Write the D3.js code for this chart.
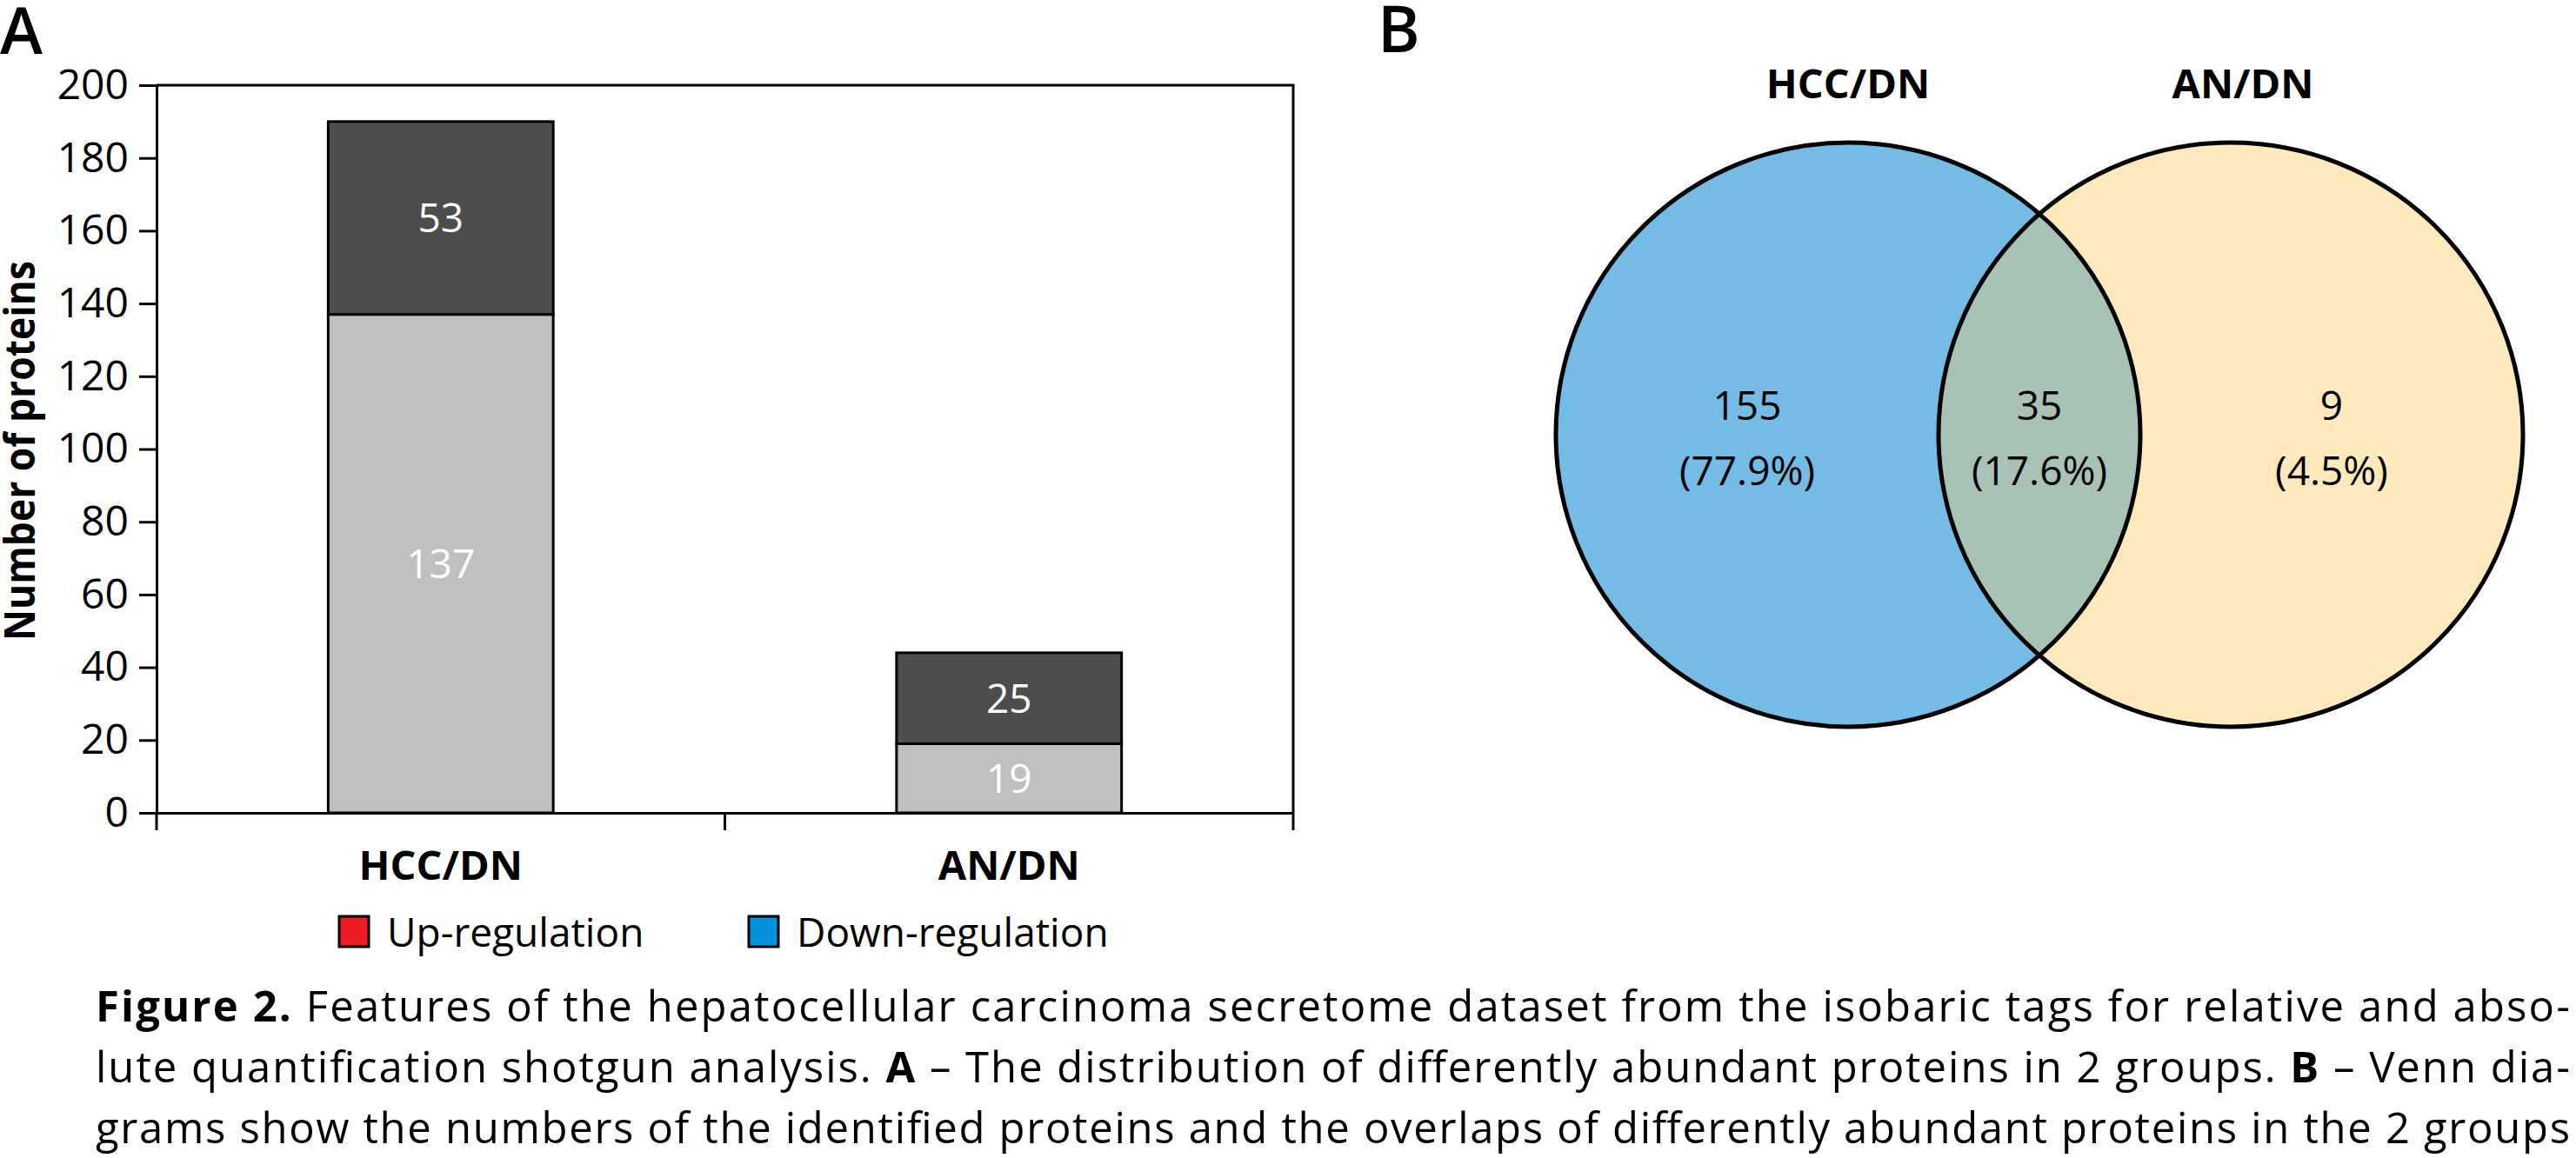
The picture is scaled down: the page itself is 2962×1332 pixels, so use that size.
<!DOCTYPE html>
<html>
<head>
<meta charset="utf-8">
<script src="https://cdn.jsdelivr.net/npm/d3@7"></script>
<style>
  body { margin: 0; background: #fff; }
  svg { display: block; }
  text { font-family: "Open Sans", "Noto Sans", sans-serif; white-space: pre; }
</style>
</head>
<body>
<svg id="chart" width="2962" height="1332"></svg>
<script>
// panel A data
const categories = ["HCC/DN", "AN/DN"];
const lowerValues = [137, 19];   // light segment
const upperValues = [53, 25];    // dark segment
const yTicks = [0, 20, 40, 60, 80, 100, 120, 140, 160, 180, 200];
const legendLabels = ["Up-regulation", "Down-regulation"];
const legendColors = ["#ed1c24", "#0093dd"];

// panel B data
const vennSets = ["HCC/DN", "AN/DN"];
const vennCounts = [155, 35, 9];  // HCC/DN only, both, AN/DN only

const captionLines = [
  [["Figure 2.", true], [" Features of the hepatocellular carcinoma secretome dataset from the isobaric tags for relative and abso-", false]],
  [["lute quantification shotgun analysis. ", false], ["A", true], [" \u2013 The distribution of differently abundant proteins in 2 groups. ", false], ["B", true], [" \u2013 Venn dia-", false]],
  [["grams show the numbers of the identified proteins and the overlaps of differently abundant proteins in the 2 groups", false]]
];

const svg = d3.select("#chart");

// ---------- panel A : stacked bars ----------
const pLeft = 180, pRight = 1487, pTop = 98, pBottom = 935;

const x = d3.scaleBand()
  .domain(categories)
  .range([pLeft, pRight]);
const y = d3.scaleLinear()
  .domain([0, 200])
  .range([pBottom, pTop]);
const barW = x.bandwidth() * 0.396;

svg.append("text")
  .attr("x", 0).attr("y", 62)
  .style("font-size", "74px").style("font-weight", 600)
  .text("A");

const bars = svg.append("g");
categories.forEach((c, i) => {
  const x0 = x(c) + (x.bandwidth() - barW) / 2;
  const segs = [
    { lo: 0, hi: lowerValues[i], fill: "#bfbfbf", label: lowerValues[i] },
    { lo: lowerValues[i], hi: lowerValues[i] + upperValues[i], fill: "#4d4d4d", label: upperValues[i] }
  ];
  segs.forEach(s => {
    bars.append("rect")
      .attr("x", x0)
      .attr("y", y(s.hi))
      .attr("width", barW)
      .attr("height", y(s.lo) - y(s.hi))
      .attr("fill", s.fill)
      .attr("stroke", "#000")
      .attr("stroke-width", 3);
    bars.append("text")
      .attr("x", x0 + barW / 2)
      .attr("y", (y(s.lo) + y(s.hi)) / 2)
      .attr("dy", "0.36em")
      .attr("text-anchor", "middle")
      .attr("fill", "#fff")
      .style("font-size", "46px")
      .text(s.label);
  });
});

// frame top and right
svg.append("path")
  .attr("d", `M${pLeft},${pTop}H${pRight}V${pBottom}`)
  .attr("fill", "none")
  .attr("stroke", "#000")
  .attr("stroke-width", 3);

const yAxis = d3.axisLeft(y)
  .tickValues(yTicks)
  .tickSize(20)
  .tickSizeOuter(0)
  .tickPadding(12);
const gy = svg.append("g")
  .attr("transform", `translate(${pLeft},0)`)
  .call(yAxis);
gy.selectAll("path, line").attr("stroke", "#000").attr("stroke-width", 3);
gy.selectAll("text")
  .attr("fill", "#000")
  .style("font-size", "48px")
  .style("font-family", '"Open Sans", sans-serif');

const xAxis = d3.axisBottom(x)
  .tickSize(0)
  .tickPadding(44);
const gx = svg.append("g")
  .attr("transform", `translate(0,${pBottom})`)
  .call(xAxis);
gx.select(".domain").attr("stroke", "#000").attr("stroke-width", 3);
gx.selectAll("text")
  .attr("fill", "#000")
  .style("font-size", "47px")
  .style("font-weight", "bold")
  .style("font-family", '"Open Sans", sans-serif');

// category boundary ticks
const bounds = categories.map(c => x(c)).concat([x(categories[categories.length - 1]) + x.bandwidth()]);
svg.append("g").selectAll("line")
  .data(bounds)
  .join("line")
  .attr("x1", d => d).attr("x2", d => d)
  .attr("y1", pBottom).attr("y2", pBottom + 20)
  .attr("stroke", "#000")
  .attr("stroke-width", 3);

svg.append("text")
  .attr("transform", `translate(40,${(pTop + pBottom) / 2 + 2}) rotate(-90)`)
  .attr("text-anchor", "middle")
  .attr("textLength", 437)
  .attr("lengthAdjust", "spacingAndGlyphs")
  .style("font-size", "48px")
  .style("font-weight", "bold")
  .text("Number of proteins");

// legend
const legend = svg.append("g");
legendLabels.forEach((l, i) => {
  const lx = 390 + i * 471;
  legend.append("rect")
    .attr("x", lx).attr("y", 1054)
    .attr("width", 34).attr("height", 35)
    .attr("fill", legendColors[i])
    .attr("stroke", "#000")
    .attr("stroke-width", 3);
  legend.append("text")
    .attr("x", lx + 55).attr("y", 1089)
    .style("font-size", "46px")
    .text(l);
});

// ---------- panel B : Venn ----------
const r = 336, cy = 500;
const vx = d3.scalePoint()
  .domain(vennSets)
  .range([2125, 2565]);
const colors = ["#74bbe6", "#fee9bc"];

svg.append("text")
  .attr("x", 1584).attr("y", 60)
  .style("font-size", "74px").style("font-weight", 600)
  .text("B");

svg.append("defs").append("clipPath")
  .attr("id", "clipLeft")
  .append("circle")
  .attr("cx", vx(vennSets[0])).attr("cy", cy).attr("r", r);

const venn = svg.append("g");
venn.selectAll("circle.fill")
  .data(vennSets)
  .join("circle")
  .attr("class", "fill")
  .attr("cx", d => vx(d)).attr("cy", cy).attr("r", r)
  .attr("fill", (d, i) => colors[i]);
venn.append("circle")
  .attr("cx", vx(vennSets[1])).attr("cy", cy).attr("r", r)
  .attr("fill", "#a8c2b6")
  .attr("clip-path", "url(#clipLeft)");
venn.selectAll("circle.edge")
  .data(vennSets)
  .join("circle")
  .attr("class", "edge")
  .attr("cx", d => vx(d)).attr("cy", cy).attr("r", r)
  .attr("fill", "none")
  .attr("stroke", "#000")
  .attr("stroke-width", 5);

venn.selectAll("text.set")
  .data(vennSets)
  .join("text")
  .attr("class", "set")
  .attr("x", (d, i) => vx(d) + i * 14)
  .attr("y", 113)
  .attr("text-anchor", "middle")
  .style("font-size", "47px")
  .style("font-weight", "bold")
  .text(d => d);

const cL = vx(vennSets[0]), cR = vx(vennSets[1]);
const regionX = [(cL - r + cR - r) / 2, (cL + cR) / 2, (cL + r + cR + r) / 2];
const total = d3.sum(vennCounts);
const pct = d3.format(".1%");
vennCounts.forEach((v, i) => {
  venn.append("text")
    .attr("x", regionX[i]).attr("y", 483)
    .attr("text-anchor", "middle")
    .style("font-size", "46px")
    .text(v);
  venn.append("text")
    .attr("x", regionX[i]).attr("y", 558)
    .attr("text-anchor", "middle")
    .style("font-size", "46px")
    .text("(" + pct(v / total) + ")");
});

// ---------- caption ----------
const cap = svg.append("g");
captionLines.forEach((line, i) => {
  const t = cap.append("text")
    .attr("x", 110)
    .attr("y", 1175 + i * 70)
    .attr("textLength", 2845)
    .attr("lengthAdjust", "spacing")
    .style("font-size", "49px");
  line.forEach(([s, b]) => {
    t.append("tspan")
      .style("font-weight", b ? "bold" : "normal")
      .text(s);
  });
});
</script>
</body>
</html>
